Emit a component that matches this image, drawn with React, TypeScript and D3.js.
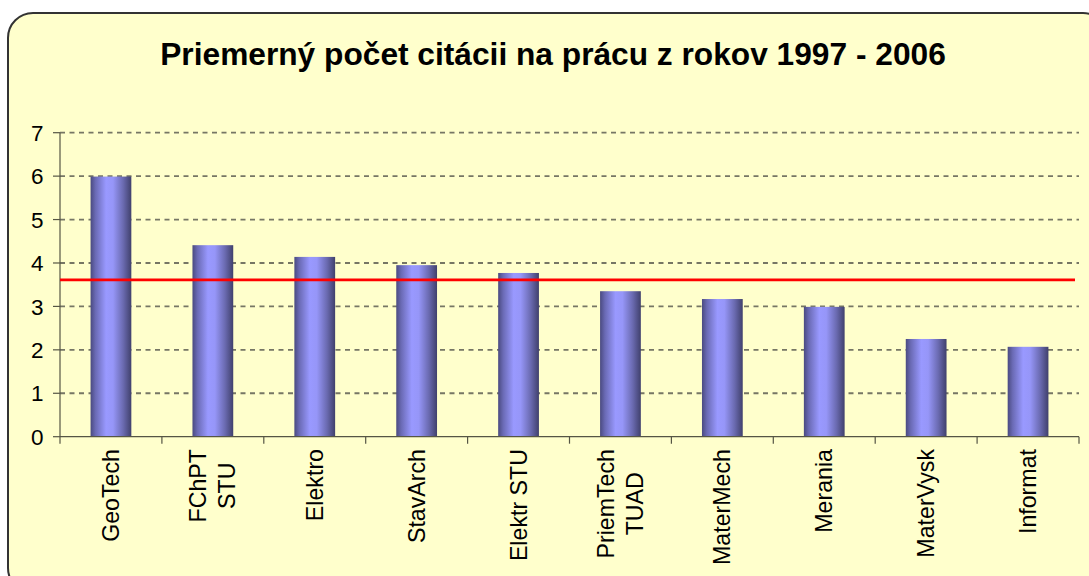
import React, { useEffect, useRef } from "react";
import * as d3 from "d3";

const categories: string[][] = [
  ["GeoTech"],
  ["FChPT", "STU"],
  ["Elektro"],
  ["StavArch"],
  ["Elektr STU"],
  ["PriemTech", "TUAD"],
  ["MaterMech"],
  ["Merania"],
  ["MaterVysk"],
  ["Informat"],
];
const values: number[] = [5.99, 4.41, 4.14, 3.95, 3.77, 3.35, 3.17, 2.99, 2.25, 2.07];
const averageValue = 3.61;
const yTicks: number[] = [0, 1, 2, 3, 4, 5, 6, 7];
const title = "Priemerný počet citácii na prácu z rokov 1997 - 2006";

const W = 1089;
const H = 576;
const plot = { left: 60, right: 1079, top: 132.7, bottom: 436.7 };
const FONT = "'Liberation Sans', Arial, sans-serif";

export default function App() {
  const ref = useRef<SVGSVGElement | null>(null);

  useEffect(() => {
    const svg = d3.select(ref.current);
    svg.selectAll("*").remove();

    const defs = svg.append("defs");
    const grad = defs
      .append("linearGradient")
      .attr("id", "barGrad")
      .attr("x1", "0%")
      .attr("x2", "100%")
      .attr("y1", "0%")
      .attr("y2", "0%");
    [
      [0, "#4a4a80"],
      [0.12, "#6a6ab4"],
      [0.38, "#9999ff"],
      [0.55, "#9696f8"],
      [0.8, "#6a6ab0"],
      [1, "#40406c"],
    ].forEach(([o, c]) => grad.append("stop").attr("offset", o as number).attr("stop-color", c as string));

    // background
    svg
      .append("rect")
      .attr("x", 8)
      .attr("y", 13)
      .attr("width", 1100)
      .attr("height", 580)
      .attr("rx", 25)
      .attr("ry", 25)
      .attr("fill", "#ffffcc")
      .attr("stroke", "#333333")
      .attr("stroke-width", 2);

    svg
      .append("text")
      .attr("x", 553)
      .attr("y", 65)
      .attr("text-anchor", "middle")
      .attr("font-family", FONT)
      .attr("font-weight", "bold")
      .attr("font-size", 31.7)
      .attr("fill", "#000")
      .text(title);

    const x = d3
      .scaleBand<number>()
      .domain(d3.range(categories.length))
      .range([plot.left, plot.right])
      .paddingInner(0.6)
      .paddingOuter(0.3);
    const step = (plot.right - plot.left) / categories.length;
    const y = d3.scaleLinear().domain([0, 7]).range([plot.bottom, plot.top]);

    // gridlines
    svg
      .append("g")
      .selectAll("line")
      .data(yTicks.filter((t) => t > 0))
      .join("line")
      .attr("x1", plot.left)
      .attr("x2", plot.right)
      .attr("y1", (d) => y(d))
      .attr("y2", (d) => y(d))
      .attr("stroke", "#767664")
      .attr("stroke-width", 1.8)
      .attr("stroke-dasharray", "5,4.5");

    // bars
    svg
      .append("g")
      .selectAll("rect")
      .data(values)
      .join("rect")
      .attr("x", (_, i) => x(i)!)
      .attr("width", x.bandwidth())
      .attr("y", (d) => y(d))
      .attr("height", (d) => y(0) - y(d))
      .attr("fill", "url(#barGrad)");

    // axes
    const axisColor = "#555544";
    svg
      .append("line")
      .attr("x1", plot.left)
      .attr("x2", plot.left)
      .attr("y1", plot.top)
      .attr("y2", plot.bottom)
      .attr("stroke", axisColor)
      .attr("stroke-width", 1.2);
    svg
      .append("line")
      .attr("x1", plot.left)
      .attr("x2", plot.right)
      .attr("y1", plot.bottom)
      .attr("y2", plot.bottom)
      .attr("stroke", axisColor)
      .attr("stroke-width", 1.2);

    svg
      .append("g")
      .selectAll("line")
      .data(yTicks)
      .join("line")
      .attr("x1", plot.left - 7)
      .attr("x2", plot.left)
      .attr("y1", (d) => y(d))
      .attr("y2", (d) => y(d))
      .attr("stroke", axisColor)
      .attr("stroke-width", 1.2);

    svg
      .append("g")
      .selectAll("line")
      .data(d3.range(categories.length + 1))
      .join("line")
      .attr("x1", (i) => plot.left + i * step)
      .attr("x2", (i) => plot.left + i * step)
      .attr("y1", plot.bottom)
      .attr("y2", plot.bottom + 7)
      .attr("stroke", axisColor)
      .attr("stroke-width", 1.2);

    svg
      .append("g")
      .selectAll("text")
      .data(yTicks)
      .join("text")
      .attr("x", plot.left - 16.5)
      .attr("y", (d) => y(d))
      .attr("dy", "0.36em")
      .attr("text-anchor", "end")
      .attr("font-family", FONT)
      .attr("font-size", 22.5)
      .attr("fill", "#000")
      .text((d) => String(d));

    // x labels
    const labelTop = 449;
    const fs = 23.2;
    const lineGap = 29;
    const lg = svg.append("g");
    categories.forEach((lines, i) => {
      const cx = x(i)! + x.bandwidth() / 2;
      if (lines.length === 1) {
        lg.append("text")
          .attr("transform", `translate(${cx},${labelTop}) rotate(-90)`)
          .attr("dy", "0.35em")
          .attr("text-anchor", "end")
          .attr("font-family", FONT)
          .attr("font-size", fs)
          .attr("fill", "#000")
          .text(lines[0]);
      } else {
        const texts = lines.map((l) =>
          lg
            .append("text")
            .attr("dy", "0.35em")
            .attr("text-anchor", "middle")
            .attr("font-family", FONT)
            .attr("font-size", fs)
            .attr("fill", "#000")
            .text(l)
        );
        const maxLen = d3.max(texts, (t) => (t.node() as SVGTextElement).getComputedTextLength()) || 0;
        const cy = labelTop + maxLen / 2;
        texts.forEach((t, k) => {
          const off = (k - (lines.length - 1) / 2) * lineGap;
          t.attr("transform", `translate(${cx + off},${cy}) rotate(-90)`);
        });
      }
    });

    // average line
    svg
      .append("line")
      .attr("x1", plot.left)
      .attr("x2", plot.right - 4)
      .attr("y1", y(averageValue))
      .attr("y2", y(averageValue))
      .attr("stroke", "#ff0000")
      .attr("stroke-width", 2.7);
  }, []);

  return (
    <div style={{ position: "absolute", left: 0, top: 0 }}>
      <svg ref={ref} width={W} height={H} style={{ display: "block", background: "#fff" }} />
    </div>
  );
}
